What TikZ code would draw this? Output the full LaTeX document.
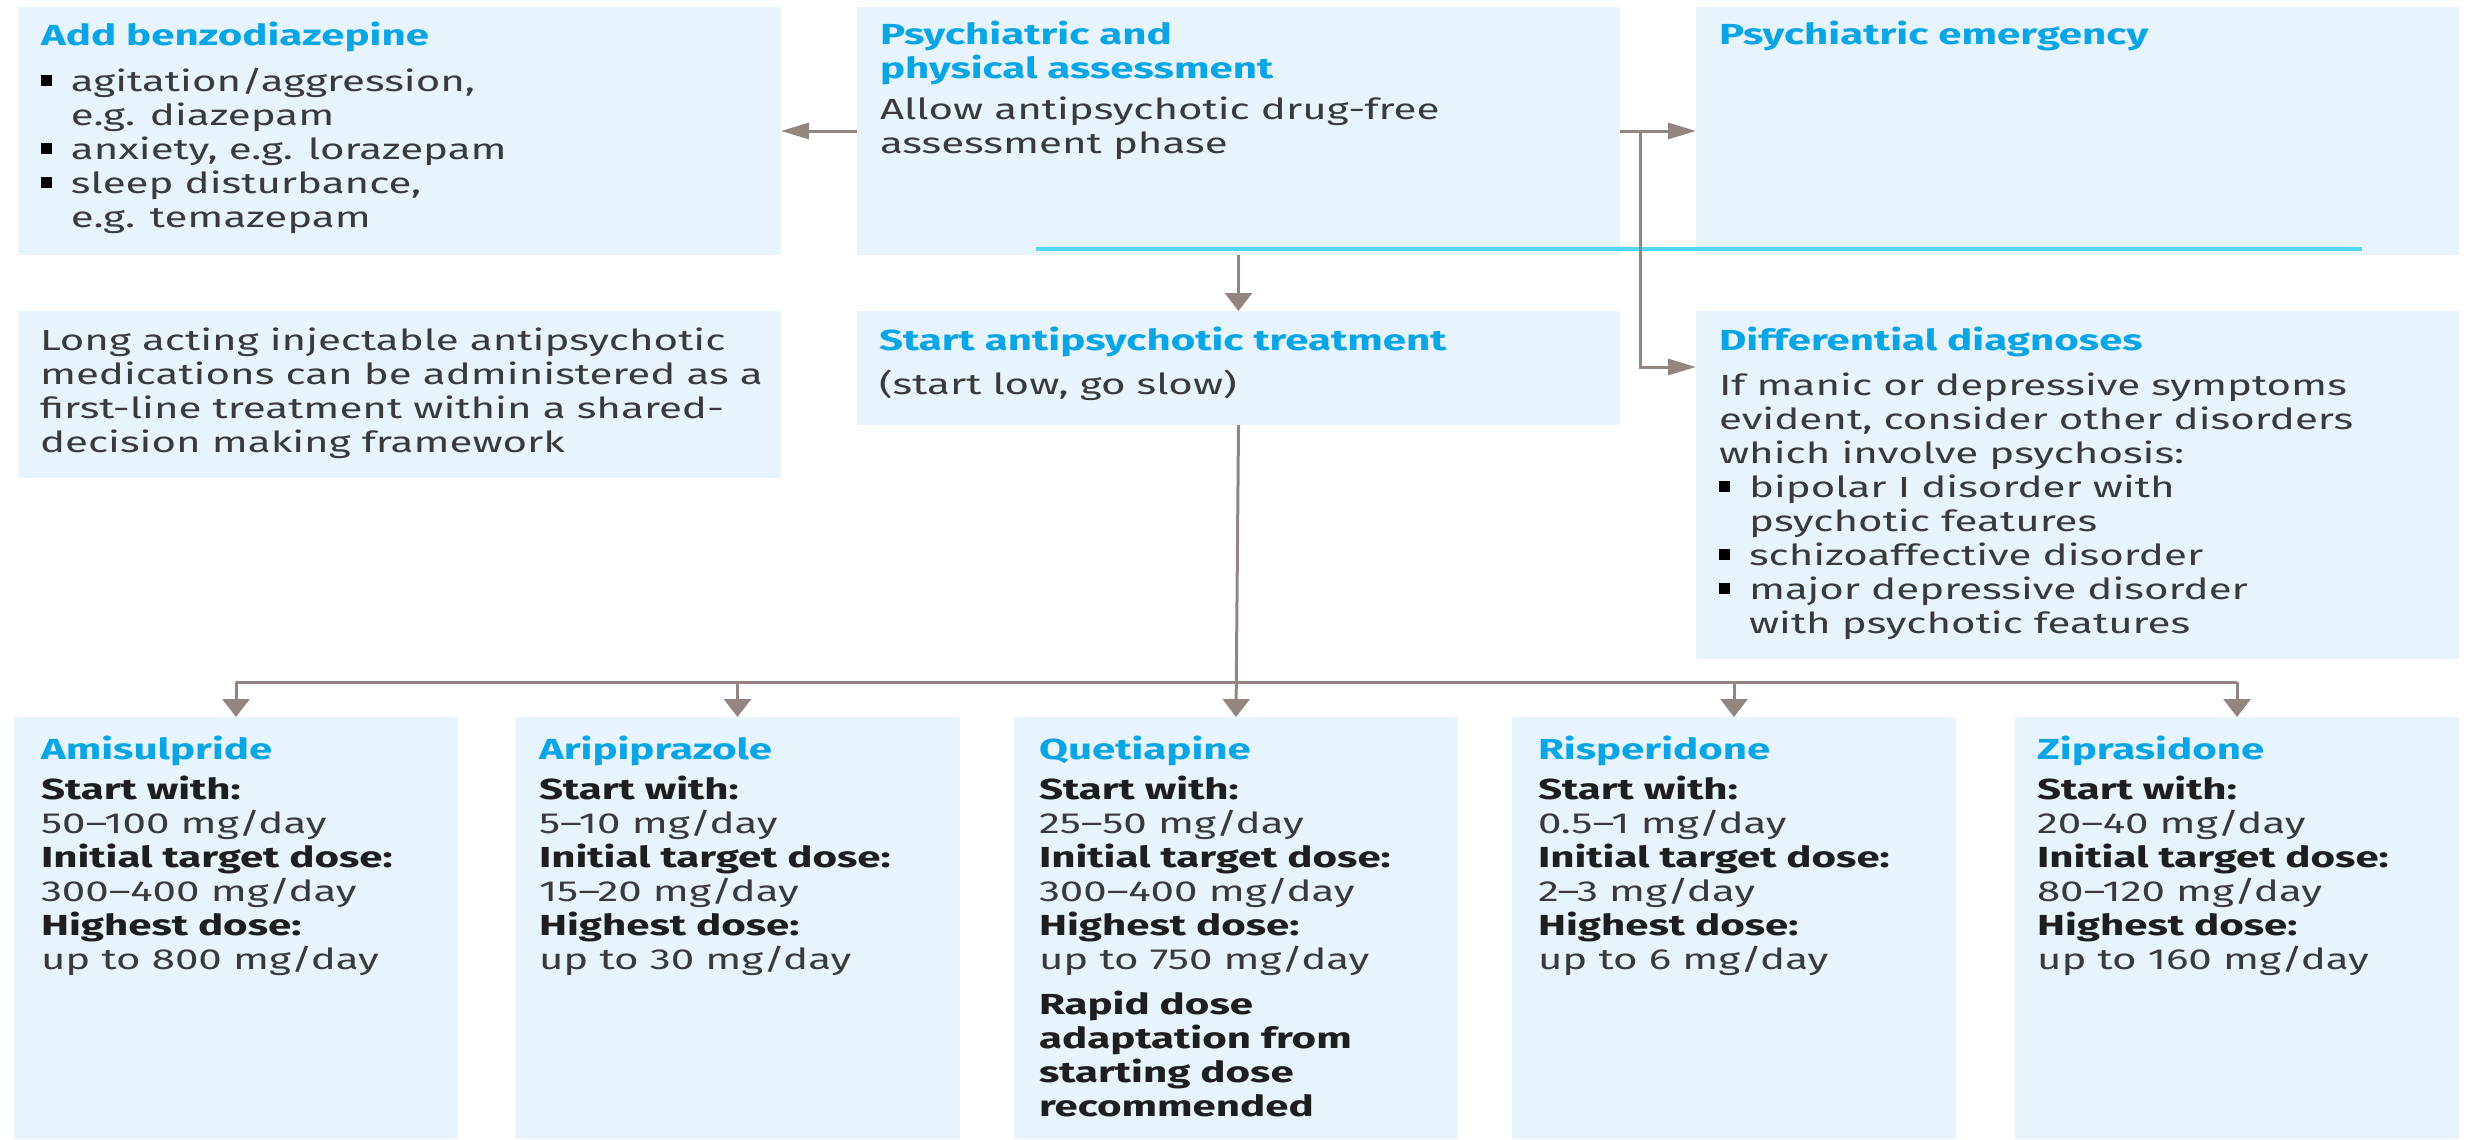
\documentclass[tikz,border=0pt]{standalone}
\usepackage{fontspec}
\setmainfont{Fira Sans}[FakeStretch=1.45]
\usetikzlibrary{arrows.meta,calc}
\definecolor{boxfill}{HTML}{E8F4FC}
\definecolor{ttlblue}{HTML}{0AA5E5}
\definecolor{txtgray}{HTML}{3A3A3A}
\definecolor{lblblack}{HTML}{1E1E1E}
\definecolor{arrgray}{HTML}{938580}
\definecolor{cyanline}{HTML}{55D6FB}
\newcommand\boxtitle[1]{{\color{ttlblue}\bfseries #1}}
\newcommand\lbl[1]{{\color{lblblack}\bfseries #1}}
\newcommand\bul{\makebox[30pt][l]{\color{black}\raisebox{5pt}{\rule{11pt}{11pt}}}}
\newcommand\ind{\hspace*{30pt}}
\begin{document}
\begin{tikzpicture}[x=1pt,y=-1pt,
  box/.style={fill=boxfill, draw=none, anchor=north west, inner sep=0pt, outer sep=0pt},
  txt/.style={anchor=north west, inner sep=0pt, outer sep=0pt, align=left, text=txtgray,
    font=\fontsize{29}{34}\selectfont},
  conn/.style={draw=arrgray, line width=3pt},
  harrow/.style={conn, -{Triangle[length=28pt,width=16pt]}},
  varrow/.style={conn, -{Triangle[length=18pt,width=27pt]}},
]
\useasboundingbox (0,0) rectangle (2473,1140);

% boxes
\node[box, minimum width=763pt, minimum height=248pt] (A) at (18,7) {};
\node[box, minimum width=763pt, minimum height=248pt] (B) at (857,7) {};
\node[box, minimum width=763pt, minimum height=248pt] (C) at (1696,7) {};
\node[box, minimum width=763pt, minimum height=167pt] (E) at (18,311) {};
\node[box, minimum width=763pt, minimum height=114pt] (F) at (857,311) {};
\node[box, minimum width=763pt, minimum height=348pt] (D) at (1696,311) {};
\node[box, minimum width=444pt, minimum height=422pt] (Am) at (14,717) {};
\node[box, minimum width=445pt, minimum height=422pt] (Ar) at (515,717) {};
\node[box, minimum width=444pt, minimum height=422pt] (Q) at (1014,717) {};
\node[box, minimum width=444pt, minimum height=422pt] (Ri) at (1512,717) {};
\node[box, minimum width=444pt, minimum height=422pt] (Zi) at (2015,717) {};

% decorative cyan rule
\coordinate (cl1) at (1036,249);
\coordinate (cl2) at (2362,249);
\draw[cyanline, line width=4pt] (cl1) -- (cl2);

% texts
\node[txt] (tA) at (41,21.2) {\strut\boxtitle{Add benzodiazepine}\\[12pt]
\bul agitation/aggression,\\
\ind e.g. diazepam\\
\bul anxiety, e.g. lorazepam\\
\bul sleep disturbance,\\
\ind e.g. temazepam};
\node[txt] (tB) at (880,20.2) {\strut\boxtitle{Psychiatric and}\\
\boxtitle{physical assessment}\\[7pt]
Allow antipsychotic drug-free\\
assessment phase};
\node[txt] (tC) at (1719,21.2) {\strut\boxtitle{Psychiatric emergency}};
\node[txt] (tE) at (40,326.2) {\strut Long acting injectable antipsychotic\\
medications can be administered as a\\
first-line treatment within a shared-\\
decision making framework};
\node[txt] (tF) at (879,326.2) {\strut\boxtitle{Start antipsychotic treatment}\\[9pt]
(start low, go slow)};
\node[txt] (tD) at (1719,326.2) {\strut\boxtitle{Differential diagnoses}\\[11pt]
If manic or depressive symptoms\\
evident, consider other disorders\\
which involve psychosis:\\
\bul bipolar I disorder with\\
\ind psychotic features\\
\bul schizoaffective disorder\\
\bul major depressive disorder\\
\ind with psychotic features};

\node[txt] (tAm) at (41,735.2) {\strut\boxtitle{Amisulpride}\\[6pt]
\lbl{Start with:}\\ 50--100 mg/day\\
\lbl{Initial target dose:}\\ 300--400 mg/day\\
\lbl{Highest dose:}\\ up to 800 mg/day};
\node[txt] (tAr) at (539,735.2) {\strut\boxtitle{Aripiprazole}\\[6pt]
\lbl{Start with:}\\ 5--10 mg/day\\
\lbl{Initial target dose:}\\ 15--20 mg/day\\
\lbl{Highest dose:}\\ up to 30 mg/day};
\node[txt] (tQ) at (1039,735.2) {\strut\boxtitle{Quetiapine}\\[6pt]
\lbl{Start with:}\\ 25--50 mg/day\\
\lbl{Initial target dose:}\\ 300--400 mg/day\\
\lbl{Highest dose:}\\ up to 750 mg/day\\[11pt]
\lbl{Rapid dose}\\ \lbl{adaptation from}\\ \lbl{starting dose}\\ \lbl{recommended}};
\node[txt] (tRi) at (1538,735.2) {\strut\boxtitle{Risperidone}\\[6pt]
\lbl{Start with:}\\ 0.5--1 mg/day\\
\lbl{Initial target dose:}\\ 2--3 mg/day\\
\lbl{Highest dose:}\\ up to 6 mg/day};
\node[txt] (tZi) at (2037,735.2) {\strut\boxtitle{Ziprasidone}\\[6pt]
\lbl{Start with:}\\ 20--40 mg/day\\
\lbl{Initial target dose:}\\ 80--120 mg/day\\
\lbl{Highest dose:}\\ up to 160 mg/day};

% connectors
\draw[harrow] (B.west) -- (A.east);
\draw[harrow] (B.east) -- (C.west);
\coordinate (j1) at (1640,131);
\draw[harrow] (j1) |- ($(D.north west)+(0,56)$);
\draw[varrow] (B.south) -- (F.north);
\coordinate (bus) at (0,682);
\draw[varrow] (F.south) -- (Q.north);
\draw[conn] (Am.north |- bus) -- (Zi.north |- bus);
\foreach \n in {Am,Ar,Ri,Zi}{
  \draw[varrow] (\n.north |- bus) -- (\n.north);
}
\end{tikzpicture}
\end{document}
